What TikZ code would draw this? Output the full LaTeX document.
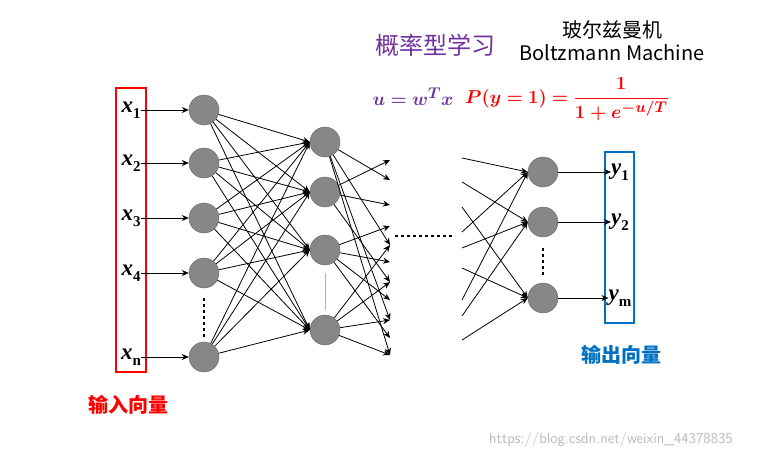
\documentclass[tikz,border=0pt]{standalone}
\usepackage{amsmath,bm}
\usepackage{fontspec}
\newfontfamily\cjk{Noto Sans CJK SC}
\newfontfamily\tms{Liberation Serif}
\usetikzlibrary{positioning,arrows.meta}
\definecolor{purp}{RGB}{112,48,160}
\definecolor{outblue}{RGB}{0,112,192}
\definecolor{ngray}{RGB}{135,135,135}
\tikzset{
  neuron/.style={circle,draw=gray!80!black,thin,fill=ngray,minimum size=30pt,inner sep=0pt},
  conn/.style={-{Stealth[length=7pt,width=6pt]},thick},
  lbl/.style={font=\tms\bfseries\itshape\fontsize{23}{23}\selectfont},
}
\newcommand{\sub}[1]{\raisebox{-0.25em}{\upshape\fontsize{15}{15}\selectfont #1}}
\begin{document}
\begin{tikzpicture}[x=1pt,y=-1pt]
\useasboundingbox (0,0) rectangle (757,458);

% boxes
\draw[red,very thick] (116,88) rectangle (146,372);
\draw[outblue,very thick] (605,152) rectangle (634,323);

% input labels and first layer
\foreach \i/\y/\t in {1/110/1,2/163/2,3/218/3,4/273/4,5/357/n}{
  \node[lbl,inner sep=0pt] (x\i) at (131,\y) {x\sub{\t}};
  \node[neuron] (a\i) at (204,\y) {};
  \draw[conn] (x\i.east) -- (a\i);
}
\draw[dashed,very thick] (204,298) -- (204,340);

% second layer
\foreach \j/\y in {1/142,2/192,3/250,4/330}{
  \node[neuron] (b\j) at (325,\y) {};
}
\draw[gray!60] (325,273) -- (325,310);
\foreach \i in {1,...,5}{
  \foreach \j in {1,...,4}{
    \draw[conn] (a\i) -- (b\j.west);
  }
}

% loose ends of second layer
\foreach \k/\y in {1/160,2/180,3/205,4/226,5/245,6/262,7/282,8/300,9/320,10/338,11/355}{
  \coordinate (e\k) at (390,\y);
}
\foreach \j/\list in {1/{2,5,9,11},2/{1,3,7},3/{4,6,8,10},4/{5,7,9,11}}{
  \foreach \k in \list{
    \draw[conn] (b\j) -- (e\k);
  }
}
\coordinate (d1) at (395,236);
\coordinate (d2) at (455,236);
\draw[dashed,very thick] (d1) -- (d2);

% output layer
\foreach \m/\y/\t in {1/172/1,2/222/2,3/298/m}{
  \node[neuron] (c\m) at (543,\y) {};
  \node[lbl,inner sep=0pt] (y\m) at (620,\y) {y\sub{\t}};
  \draw[conn] (c\m) -- (y\m.west);
}
\draw[dashed,very thick] (543,248) -- (543,275);
\foreach \k/\y/\m in {1/158/1,2/182/2,3/207/3,4/232/1,5/248/2,6/268/3,7/300/1,8/316/2,9/340/3}{
  \coordinate (s\k) at (462,\y);
  \draw[conn] (s\k) -- (c\m.west);
}

% texts
\node[red,font=\cjk\fontsize{20}{20}\selectfont\bfseries] (inlab) at (128,405) {输入向量};
\node[outblue,font=\cjk\fontsize{20}{20}\selectfont\bfseries] (outlab) at (621,355) {输出向量};
\node[purp,font=\cjk\fontsize{24}{24}\selectfont] (title) at (435,45) {概率型学习};
\node[font=\cjk\fontsize{20}{20}\selectfont] (bm) at (612,30) {玻尔兹曼机};
\node[font=\cjk\fontsize{20}{20}\selectfont] (bmen) at (612,53) {Boltzmann Machine};
\node[purp,font=\fontsize{19}{19}\selectfont,scale=1.08] (ueq) at (413,97) {$\bm{u=w^{T}x}$};
\node[red,font=\fontsize{19}{19}\selectfont,scale=1.08] (peq) at (567,99) {$\bm{P(y=1)=\dfrac{1}{1+e^{-u/T}}}$};
\node[gray!55,font=\sffamily\fontsize{15}{15}\selectfont] (wm) at (611,440) {https://blog.csdn.net/weixin\_44378835};
\end{tikzpicture}
\end{document}
